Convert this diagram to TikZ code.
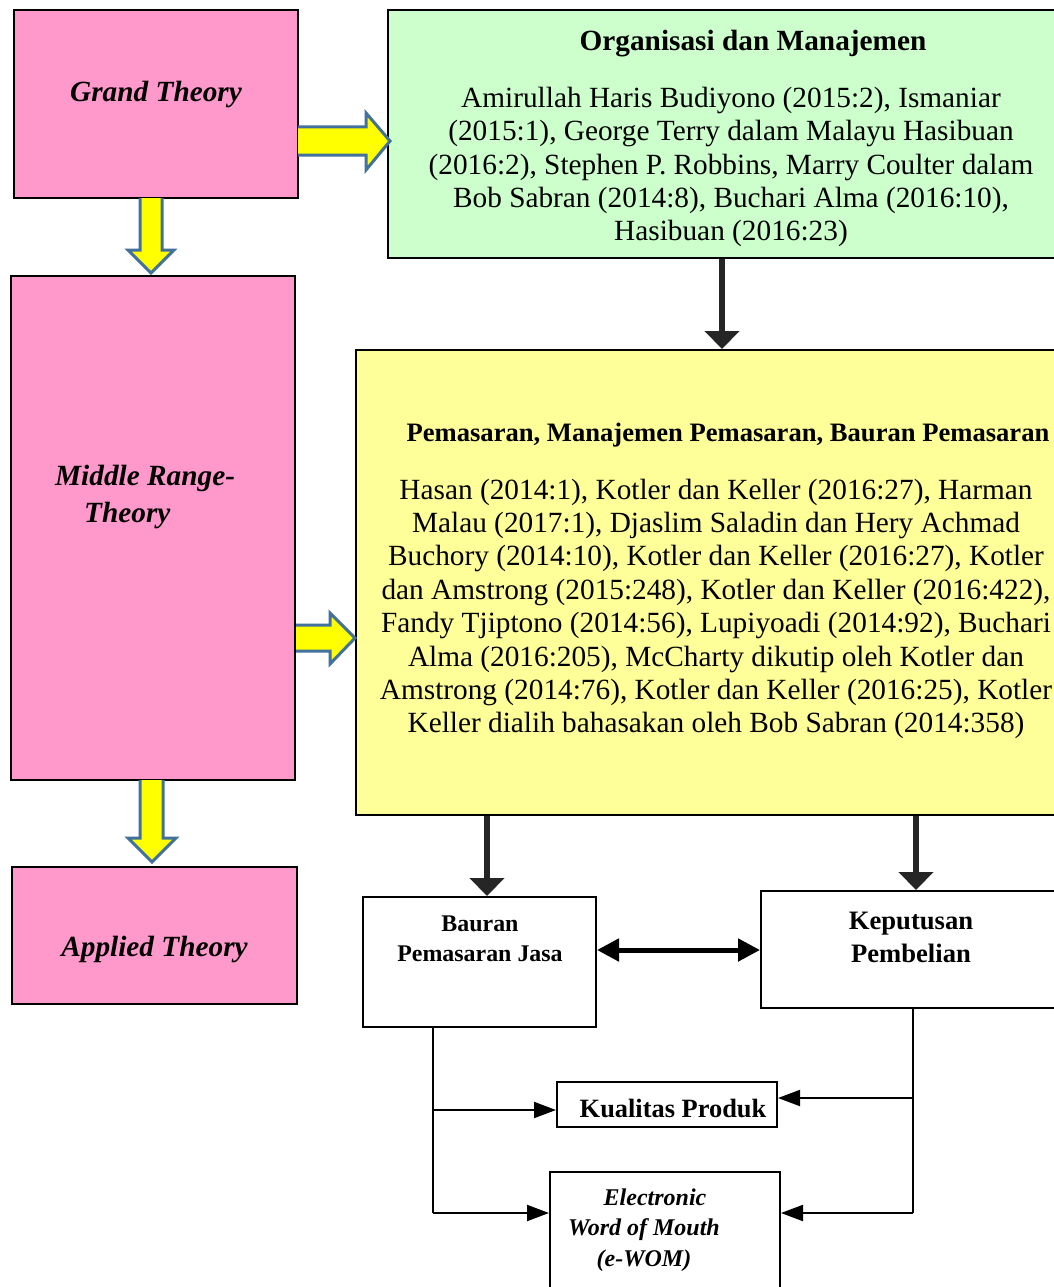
\documentclass[tikz,border=0pt]{standalone}
\usepackage{fontspec}
\setmainfont{Liberation Serif}
\usetikzlibrary{arrows.meta}
\definecolor{pinkc}{HTML}{FF99CC}
\definecolor{greenc}{HTML}{CCFFCC}
\definecolor{yellowc}{HTML}{FFFF99}
\definecolor{arrowfill}{HTML}{FFFF00}
\definecolor{arrowedge}{HTML}{41719C}
\definecolor{darkc}{HTML}{262626}
\tikzset{
  box/.style={draw=black, line width=2pt, inner sep=0pt},
  pinkbox/.style={box, fill=pinkc},
  blockarrow/.style={fill=arrowfill, draw=arrowedge, line width=3pt, line join=miter},
  bigarrow/.style={draw=darkc, line width=6pt, -{Triangle[width=34pt,length=18pt]}},
  dblarrow/.style={draw=black, line width=5pt, {Triangle[width=22pt,length=22pt]}-{Triangle[width=22pt,length=22pt]}},
  thinarrow/.style={draw=black, line width=2pt, -{Triangle[width=16pt,length=22pt]}},
  thinline/.style={draw=black, line width=2pt},
  body/.style={font=\fontsize{29.3}{33.4}\selectfont, align=center, inner sep=0pt},
}
\begin{document}
\begin{tikzpicture}[x=1pt,y=-1pt]
\useasboundingbox (0,0) rectangle (1054,1287);
\clip (0,0) rectangle (1054,1287);
\fill[white] (0,0) rectangle (1054,1287);

% left column
\node[pinkbox, minimum width=284pt, minimum height=188pt] (grand) at (156,104) {};
\node[font=\fontsize{29.3}{30}\selectfont\bfseries\itshape, inner sep=0pt] (grandt) at (156,94) {Grand Theory};
\node[pinkbox, minimum width=284pt, minimum height=504pt] (middle) at (153,528) {};
\node[font=\fontsize{29.3}{37}\selectfont\bfseries\itshape, align=left, inner sep=0pt, anchor=west] (middlet) at (55,497) {Middle Range-\\\hspace*{29pt}Theory};
\node[pinkbox, minimum width=285pt, minimum height=137pt] (applied) at (154.5,935.5) {};
\node[font=\fontsize{29.3}{30}\selectfont\bfseries\itshape, inner sep=0pt] (appliedt) at (154.5,949) {Applied Theory};

% green box
\node[box, fill=greenc, minimum width=670pt, minimum height=248pt] (green) at (723,134) {};
\node[font=\fontsize{29.3}{30}\selectfont\bfseries, inner sep=0pt] (greent) at (753,44) {Organisasi dan Manajemen};
\node[body] (greenb) at (731,167) {Amirullah Haris Budiyono (2015:2), Ismaniar\\(2015:1), George Terry dalam Malayu Hasibuan\\(2016:2), Stephen P. Robbins, Marry Coulter dalam\\Bob Sabran (2014:8), Buchari Alma (2016:10),\\Hasibuan (2016:23)};

% yellow box
\node[box, fill=yellowc, minimum width=702pt, minimum height=465pt] (yellow) at (707,582.5) {};
\node[font=\fontsize{26.6}{28}\selectfont\bfseries, inner sep=0pt] (yellowt) at (728,435) {Pemasaran, Manajemen Pemasaran, Bauran Pemasaran};
\node[body] (yellowb) at (716,609) {Hasan (2014:1), Kotler dan Keller (2016:27), Harman\\Malau (2017:1), Djaslim Saladin dan Hery Achmad\\Buchory (2014:10), Kotler dan Keller (2016:27), Kotler\\dan Amstrong (2015:248), Kotler dan Keller (2016:422),\\Fandy Tjiptono (2014:56), Lupiyoadi (2014:92), Buchari\\Alma (2016:205), McCharty dikutip oleh Kotler dan\\Amstrong (2014:76), Kotler dan Keller (2016:25), Kotler\\Keller dialih bahasakan oleh Bob Sabran (2014:358)};

% lower boxes
\node[box, fill=white, minimum width=233pt, minimum height=130pt] (bauran) at (479.5,962) {};
\node[font=\fontsize{23.9}{30}\selectfont\bfseries, align=center, inner sep=0pt] (baurant) at (480,939) {Bauran\\Pemasaran Jasa};
\node[box, fill=white, minimum width=297pt, minimum height=117pt] (keputusan) at (909.5,949.5) {};
\node[font=\fontsize{26.6}{33}\selectfont\bfseries, align=center, inner sep=0pt] (keputusant) at (911,937) {Keputusan\\Pembelian};
\node[box, fill=white, minimum width=220pt, minimum height=45pt] (kualitas) at (667,1104.5) {};
\node[font=\fontsize{26.4}{28}\selectfont\bfseries, inner sep=0pt] (kualitast) at (673,1108) {Kualitas Produk};
\node[box, fill=white, minimum width=230pt, minimum height=123pt] (ewom) at (665,1233.5) {};
\node[font=\fontsize{24}{30.5}\selectfont\bfseries\itshape, align=center, inner sep=0pt] (ewomt) at (644,1230) {\hspace*{22pt}Electronic\\Word of Mouth\\(e-WOM)};

% block arrows
\draw[blockarrow] (298,127) -- (366,127) -- (366,113) -- (390,141) -- (366,170) -- (366,155) -- (298,155) ;
\draw[blockarrow] (140,198) -- (140,250) -- (128,250) -- (151,273) -- (174,250) -- (162,250) -- (162,198);
\draw[blockarrow] (296,625) -- (330,625) -- (330,613) -- (355,638) -- (330,664) -- (330,651) -- (296,651);
\draw[blockarrow] (140,780) -- (140,838) -- (128,838) -- (152,862) -- (176,838) -- (163,838) -- (163,780);

% dark arrows
\draw[bigarrow] (green.south -| 722,0) -- (yellow.north -| 722,0);
\draw[bigarrow] (yellow.south -| 487,0) -- (bauran.north -| 487,0);
\draw[bigarrow] (yellow.south -| 916,0) -- (keputusan.north -| 916,0);
\draw[dblarrow] (bauran.east |- 0,950) -- (keputusan.west |- 0,950);

% connectors to lower boxes
\coordinate (lb) at (433,1213);
\coordinate (rb) at (913,1213);
\draw[thinline] (bauran.south -| lb) -- (lb);
\draw[thinline] (keputusan.south -| rb) -- (rb);
\draw[thinarrow] (433,1110) -- (kualitas.west |- 0,1110);
\draw[thinarrow] (lb) -- (ewom.west |- lb);
\draw[thinarrow] (912,1098) -- (kualitas.east |- 0,1098);
\draw[thinarrow] (rb) -- (ewom.east |- rb);
\end{tikzpicture}
\end{document}
